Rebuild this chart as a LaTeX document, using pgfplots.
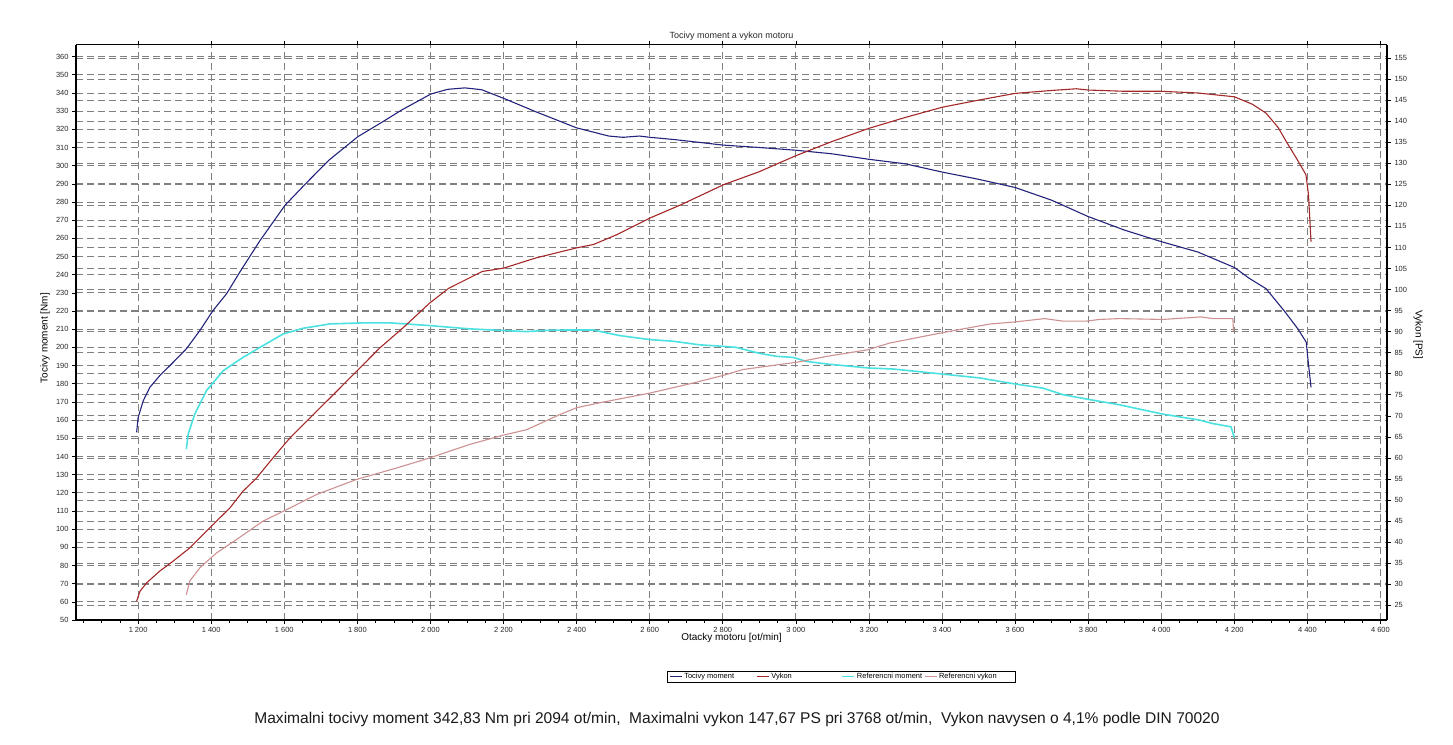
\documentclass[border=0pt]{standalone}
\usepackage{pgfplots}
\pgfplotsset{compat=1.18}
\usepackage{pgfplotstable}
\usepackage{fontspec}
\setmainfont{Liberation Sans}
\definecolor{torq}{RGB}{35,35,125}
\definecolor{pwr}{RGB}{165,40,40}
\definecolor{rtorq}{RGB}{75,225,225}
\definecolor{rpwr}{RGB}{205,145,145}
\definecolor{gridc}{RGB}{128,128,128}

\pgfplotstableread{
rpm val
1196 153.2
1200 161.4
1214 170.6
1232 178.0
1259 184.4
1296 191.8
1332 199.2
1369 209.3
1405 220.3
1442 229.5
1481 242.3
1534 258.9
1602 278.2
1659 290.2
1722 303.0
1801 315.9
1869 324.1
1921 330.6
2001 339.4
2047 342.0
2094 342.8
2140 341.8
2201 337.0
2288 329.7
2400 320.8
2488 316.3
2527 315.6
2572 316.3
2601 315.6
2666 314.4
2802 311.3
2900 310.0
3000 308.5
3100 306.5
3200 303.5
3300 301.0
3400 296.5
3500 292.5
3600 288.0
3700 281.0
3800 272.0
3900 264.5
4000 258.2
4100 252.5
4200 244.0
4241 238.0
4287 232.3
4337 220.0
4374 210.2
4397 202.8
4401 194.5
4410 178.0
}\torque

\pgfplotstableread{
rpm val
1196 26.0
1205 28.3
1223 30.3
1259 33.1
1296 35.5
1341 38.6
1396 43.4
1451 48.1
1487 52.1
1524 55.2
1569 60.0
1615 64.7
1670 69.5
1734 75.0
1798 80.6
1861 86.1
1925 90.9
1998 96.8
2050 100.3
2089 102.0
2142 104.3
2201 105.1
2288 107.5
2400 109.9
2446 110.7
2509 113.0
2601 117.0
2687 120.2
2802 124.9
2900 128.0
3000 131.8
3100 135.2
3200 138.3
3300 140.9
3400 143.3
3500 145.0
3600 146.6
3700 147.3
3768 147.7
3800 147.4
3900 147.1
4000 147.1
4100 146.7
4200 145.8
4250 144.0
4287 141.9
4320 138.5
4342 135.2
4370 131.2
4396 127.3
4403 122.6
4407 116.2
4410 111.4
}\power

\pgfplotstableread{
rpm val
1332 144.0
1337 152.3
1355 163.3
1387 176.2
1433 187.2
1487 194.5
1542 201.0
1597 207.4
1651 210.5
1724 212.9
1816 213.5
1889 213.5
1934 212.9
1998 212.0
2107 210.2
2199 209.3
2263 208.7
2330 209.5
2399 209.6
2445 209.6
2518 206.5
2600 204.3
2664 203.4
2737 201.4
2801 200.6
2837 200.0
2901 196.7
2947 195.1
2992 194.5
3029 192.3
3083 190.9
3197 188.7
3266 188.1
3398 185.4
3503 183.2
3599 179.9
3676 177.6
3731 174.0
3795 171.6
3886 168.4
4004 163.3
4105 160.0
4141 158.1
4191 156.3
4200 150.4
}\reftorque

\pgfplotstableread{
rpm val
1332 27.5
1341 30.7
1369 33.9
1414 37.4
1469 40.6
1542 45.0
1606 47.7
1688 51.3
1798 54.9
1907 57.6
1998 60.0
2107 63.2
2199 65.4
2263 66.7
2354 70.3
2399 71.9
2463 73.1
2600 75.4
2719 77.8
2801 79.6
2855 81.0
2956 82.2
3001 82.7
3083 84.1
3197 85.7
3257 87.3
3398 89.7
3530 91.8
3599 92.3
3681 93.1
3731 92.5
3795 92.5
3831 92.9
3886 93.1
4004 92.9
4109 93.5
4141 93.1
4196 93.1
4198 90.1
}\refpower

\pgfplotsset{
  base/.style={
    scale only axis, width=1311bp, height=575bp,
    at={(76bp,125bp)}, anchor=south west,
    xmin=1030, xmax=4618,
    grid style={gridc, line width=0.8bp, dash pattern=on 7bp off 4bp},
    tick label style={font=\fontsize{7.5}{8}\selectfont, text=black!85},
    /pgf/number format/assume math mode=true,
    major tick length=4bp, minor tick length=2.5bp,
    tick align=outside,
    tick style={black, line width=0.6bp},
  },
  pwrscale/.style={ymin=21.5, ymax=158.1},
}

\begin{document}
\begin{tikzpicture}
\path[use as bounding box] (0bp,0bp) rectangle (1453bp,745bp);

% Axis A: PS grid only
\begin{axis}[base, pwrscale,
  axis line style={draw=none},
  xtick=\empty, ytick={25,30,...,155}, yticklabels={},
  major tick length=0bp, ymajorgrids]
\end{axis}

% Axis B: torque (Nm)
\begin{axis}[base,
  ymin=50, ymax=366.4,
  axis x line*=bottom, axis y line*=left,
  x axis line style={-, line width=2.5bp},
  y axis line style={-, line width=2.5bp},
  xtick={1200,1400,...,4600},
  xticklabels={1 200,1 400,1 600,1 800,2 000,2 200,2 400,2 600,2 800,3 000,3 200,3 400,3 600,3 800,4 000,4 200,4 400,4 600},
  minor xtick={1050,1100,...,4600},
  ytick={50,60,...,360},
  xmajorgrids, ymajorgrids,
  xlabel={Otacky motoru [ot/min]},
  ylabel={Tocivy moment [Nm]},
  title={Tocivy moment a vykon motoru},
  label style={font=\fontsize{7.5}{8}\selectfont, text=black!85},
  every axis x label/.style={at={(axis description cs:0.5,-0.0313)}, anchor=center},
  every axis y label/.style={at={(axis description cs:-0.0237,0.49)}, rotate=90, anchor=center},
  every axis title/.style={font=\fontsize{9}{10}\selectfont, text=black!85, at={(axis description cs:0.5,1.0157)}, anchor=center},
  legend columns=4,
  legend cell align=left,
  legend image code/.code={\draw[#1] (0bp,0bp) -- (12bp,0bp);},
  legend style={at={(axis description cs:0.584,-0.0983)}, anchor=center,
    draw=black, line width=0.8bp, font=\fontsize{7.5}{8}\selectfont,
    inner xsep=1.5bp, inner ysep=0bp,
    /tikz/every even column/.append style={column sep=0bp}},
]
\addplot[torq, line width=1.1bp] table[x=rpm, y=val] {\torque};
\addlegendentry{\makebox[70bp][l]{Tocivy moment}}
\addlegendimage{pwr, line width=1.1bp}
\addlegendentry{\makebox[68bp][l]{Vykon}}
\addplot[rtorq, line width=1.6bp] table[x=rpm, y=val] {\reftorque};
\addlegendentry{\makebox[65bp][l]{Referencni moment}}
\addlegendimage{rpwr, line width=1.1bp}
\addlegendentry{\makebox[73bp][l]{Referencni vykon}}
\end{axis}

% Axis C: power (PS)
\begin{axis}[base, pwrscale,
  axis x line*=top, axis y line*=right,
  x axis line style={-, line width=1bp},
  y axis line style={-, line width=2.5bp},
  xtick={1200,1400,...,4600}, xticklabels={},
  ytick={25,30,...,155},
  ylabel={Vykon [PS]},
  label style={font=\fontsize{7.5}{8}\selectfont, text=black!85},
  every axis y label/.style={at={(axis description cs:1.0237,0.496)}, rotate=-90, anchor=center},
]
\addplot[pwr, line width=1.1bp] table[x=rpm, y=val] {\power};
\addplot[rpwr, line width=1.1bp] table[x=rpm, y=val] {\refpower};
\end{axis}

\node[font=\fontsize{15.6}{18}\selectfont, text=black!90] at (737bp,26bp)
  {Maximalni tocivy moment 342,83 Nm pri 2094 ot/min,\ \ Maximalni vykon 147,67 PS pri 3768 ot/min,\ \ Vykon navysen o 4,1\% podle DIN 70020};
\end{tikzpicture}
\end{document}
